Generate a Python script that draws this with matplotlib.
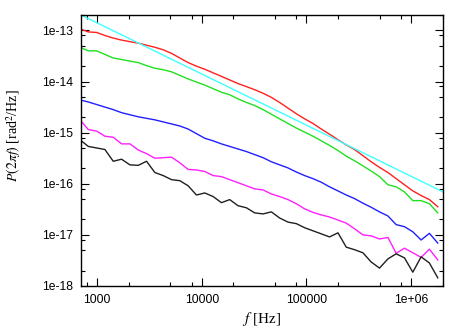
import numpy as np
import matplotlib
matplotlib.use("Agg")
import matplotlib.pyplot as plt
from matplotlib.ticker import FixedLocator, FixedFormatter, LogLocator, NullFormatter

# frequencies (Hz), common grid of all measured spectra
freq = [684, 822, 987, 1184, 1422, 1709, 2051, 2465, 2960, 3554,
        4270, 5129, 6157, 7396, 8880, 10660, 12810, 15380, 18460, 22180,
        26660, 31990, 38440, 46150, 55380, 66530, 79900, 95900, 115300, 138400,
        166000, 199900, 239900, 287700, 345900, 415000, 498600, 599800, 719700, 863800,
        1038000, 1245000, 1495000, 1797000]

# log10 of P(2 pi f)
log_red = [-12.97, -13.03, -13.04, -13.10, -13.15, -13.19, -13.22, -13.25, -13.29, -13.33,
           -13.38, -13.45, -13.54, -13.63, -13.70, -13.76, -13.83, -13.90, -13.97, -14.04,
           -14.10, -14.16, -14.23, -14.31, -14.41, -14.52, -14.63, -14.73, -14.82, -14.93,
           -15.03, -15.14, -15.24, -15.33, -15.45, -15.57, -15.68, -15.78, -15.90, -16.02,
           -16.14, -16.23, -16.31, -16.45]
log_green = [-13.33, -13.40, -13.40, -13.47, -13.54, -13.57, -13.60, -13.63, -13.69, -13.74,
             -13.77, -13.81, -13.88, -13.95, -14.01, -14.07, -14.14, -14.21, -14.26, -14.34,
             -14.41, -14.47, -14.55, -14.64, -14.73, -14.82, -14.91, -14.99, -15.07, -15.16,
             -15.25, -15.35, -15.46, -15.55, -15.65, -15.75, -15.86, -16.02, -16.06, -16.16,
             -16.33, -16.33, -16.39, -16.57]
log_blue = [-14.36, -14.40, -14.45, -14.50, -14.55, -14.61, -14.65, -14.69, -14.72, -14.75,
            -14.79, -14.83, -14.87, -14.93, -15.02, -15.11, -15.16, -15.22, -15.27, -15.32,
            -15.37, -15.43, -15.49, -15.57, -15.63, -15.69, -15.77, -15.84, -15.90, -15.97,
            -16.06, -16.14, -16.22, -16.29, -16.38, -16.46, -16.55, -16.63, -16.80, -16.84,
            -16.94, -17.10, -16.97, -17.16]
log_magenta = [-14.75, -14.94, -14.97, -15.07, -15.09, -15.22, -15.22, -15.34, -15.41, -15.50,
               -15.49, -15.48, -15.59, -15.72, -15.73, -15.76, -15.84, -15.86, -15.92, -15.98,
               -16.04, -16.10, -16.12, -16.20, -16.25, -16.31, -16.39, -16.49, -16.56, -16.61,
               -16.65, -16.71, -16.77, -16.88, -17.00, -17.02, -17.08, -17.05, -17.36, -17.26,
               -17.35, -17.44, -17.28, -17.49]
log_black = [-15.14, -15.27, -15.30, -15.33, -15.56, -15.52, -15.63, -15.64, -15.56, -15.78,
             -15.84, -15.92, -15.94, -16.04, -16.22, -16.18, -16.25, -16.37, -16.31, -16.43,
             -16.47, -16.57, -16.59, -16.55, -16.67, -16.75, -16.78, -16.86, -16.92, -16.98,
             -17.04, -16.96, -17.24, -17.29, -17.35, -17.53, -17.65, -17.47, -17.37, -17.45,
             -17.73, -17.43, -17.55, -17.84]

# 1/f reference line (end points)
ref_f = [700, 2e6]
ref_p = [2e-13, 7e-17]

xticks = [1e3, 1e4, 1e5, 1e6]
xlabels = ["1000", "10000", "100000", "1e+06"]
yticks = [1e-18, 1e-17, 1e-16, 1e-15, 1e-14, 1e-13]
ylabels = ["1e-18", "1e-17", "1e-16", "1e-15", "1e-14", "1e-13"]

plt.rcParams['font.family'] = ['Liberation Sans', 'DejaVu Sans']
plt.rcParams['mathtext.fontset'] = 'stix'

fig = plt.figure(figsize=(4.63, 3.29), dpi=100)
ax = fig.add_axes([0.175, 0.1307, 0.781, 0.8237])

f = np.array(freq)
ax.plot(f, 10 ** np.array(log_red), color='#ff2020', lw=1.0)
ax.plot(f, 10 ** np.array(log_green), color='#20e020', lw=1.0)
ax.plot(f, 10 ** np.array(log_blue), color='#2020ff', lw=1.0)
ax.plot(f, 10 ** np.array(log_magenta), color='#ff20ff', lw=1.0)
ax.plot(f, 10 ** np.array(log_black), color='#202020', lw=1.0)
ax.plot(ref_f, ref_p, color='#40ffff', lw=1.0)

ax.set_xscale('log')
ax.set_yscale('log')
ax.set_xlim(700, 2e6)
ax.set_ylim(1e-18, 2e-13)

ax.xaxis.set_major_locator(FixedLocator(xticks))
ax.xaxis.set_major_formatter(FixedFormatter(xlabels))
ax.yaxis.set_major_locator(FixedLocator(yticks))
ax.yaxis.set_major_formatter(FixedFormatter(ylabels))
ax.xaxis.set_minor_locator(LogLocator(base=10, subs=[2, 5, 8]))
ax.yaxis.set_minor_locator(LogLocator(base=10, subs=[2, 5, 8]))
ax.xaxis.set_minor_formatter(NullFormatter())
ax.yaxis.set_minor_formatter(NullFormatter())

ax.tick_params(which='both', direction='in', top=True, right=True, labelsize=8.7, width=0.8)
ax.tick_params(which='major', length=6, pad=6)
ax.tick_params(which='minor', length=3)
for s in ax.spines.values():
    s.set_linewidth(1.0)

ax.set_xlabel(r'$f$ [Hz]', family='Liberation Serif', fontsize=11, labelpad=3)
ax.set_ylabel(r'$P(2\pi f)$ [rad$^2$/Hz]', family='Liberation Serif', fontsize=10)
ax.yaxis.set_label_coords(-0.160, 0.553)

fig.savefig('out.png', dpi=100)
